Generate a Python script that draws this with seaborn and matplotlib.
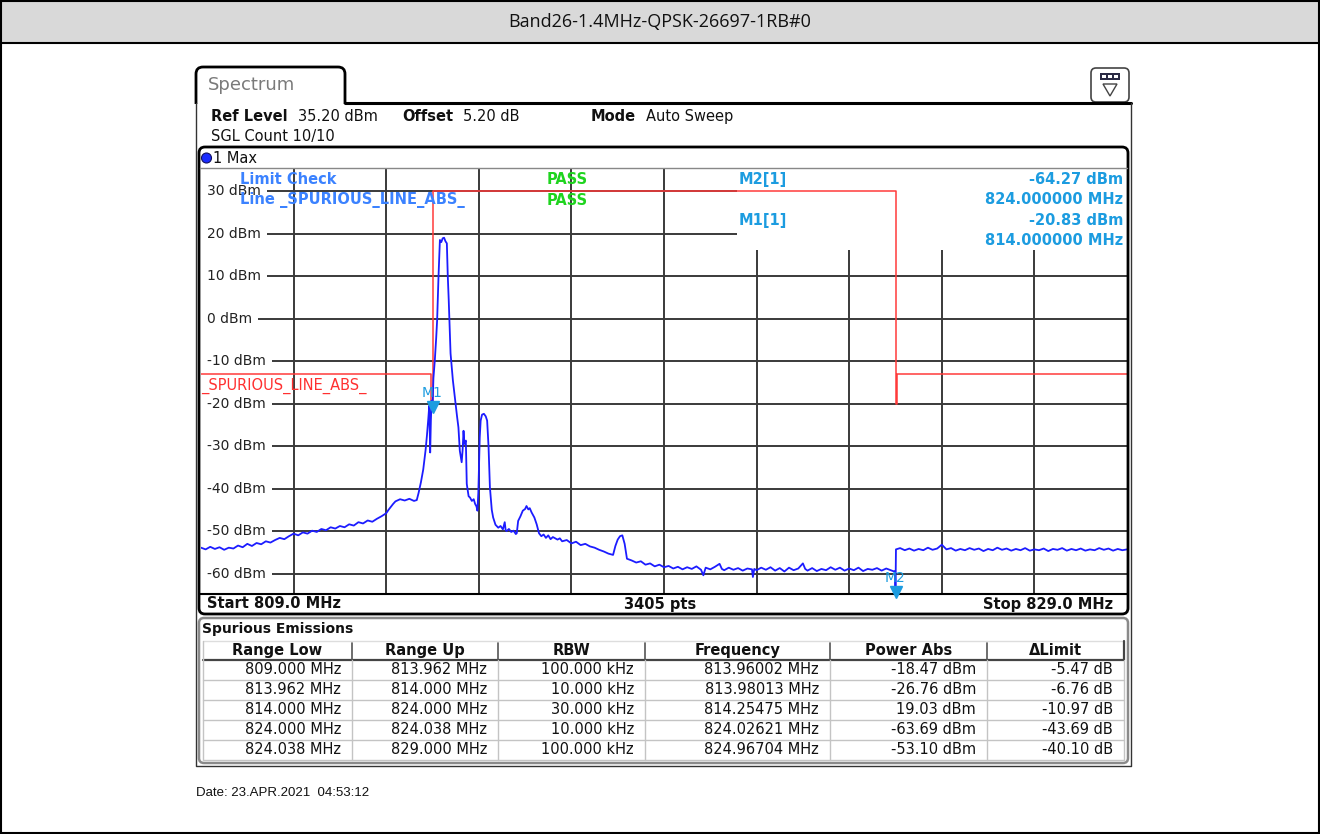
import numpy as np
import pandas as pd
import seaborn as sns
import matplotlib
matplotlib.use('Agg')
import matplotlib.pyplot as plt
import matplotlib.patches as patches
from matplotlib.path import Path

# ---- data ----
title = 'Band26-1.4MHz-QPSK-26697-1RB#0'
start_freq, stop_freq = 809.0, 829.0
ref_level = 35.20
sweep_pts = 3405

skirt_freq = [809.0, 809.1, 809.2, 809.3, 809.4, 809.5, 809.6, 809.7, 809.8, 809.9,
              810.0, 810.1, 810.2, 810.3, 810.4, 810.5, 810.6, 810.7, 810.8, 810.9,
              811.0, 811.1, 811.2, 811.3, 811.4, 811.5, 811.6, 811.7, 811.8, 811.9,
              812.0, 812.1, 812.2, 812.3, 812.4, 812.5, 812.6, 812.7, 812.8, 812.9,
              813.0, 813.05, 813.1, 813.15, 813.2, 813.3, 813.4, 813.5, 813.6, 813.66]
skirt_dbm = [-53.9, -54.3, -53.7, -54.2, -53.8, -54.4, -53.9, -54.1, -53.4, -53.8,
             -53.0, -53.5, -52.8, -53.1, -52.4, -52.7, -52.1, -51.6, -51.9, -51.2,
             -50.6, -51.0, -50.3, -50.6, -49.9, -50.2, -49.5, -49.8, -49.1, -49.4,
             -48.8, -49.1, -48.4, -48.7, -47.9, -48.2, -47.5, -47.8, -47.1, -46.5,
             -45.8, -45.0, -44.3, -43.6, -43.0, -42.5, -42.8, -42.4, -42.9, -42.7]

carrier_freq = [813.7, 813.75, 813.8, 813.85, 813.88, 813.91, 813.93, 813.95, 813.965,
                813.98, 814.0, 814.02, 814.05, 814.08, 814.1, 814.13, 814.16, 814.19,
                814.22, 814.25, 814.28, 814.31, 814.33, 814.35, 814.39, 814.44, 814.49,
                814.53, 814.56, 814.59, 814.63, 814.65, 814.67, 814.69, 814.72, 814.74,
                814.78, 814.81, 814.85, 814.89, 814.92, 814.95, 814.97, 814.99, 815.0,
                815.02, 815.04, 815.07, 815.11, 815.15, 815.18, 815.21, 815.24, 815.28,
                815.31, 815.36, 815.42, 815.47, 815.52, 815.56, 815.58, 815.6, 815.65,
                815.7, 815.75, 815.8, 815.82, 815.85, 815.9, 815.95, 816.0, 816.03,
                816.07, 816.1]
carrier_dbm = [-41.0, -38.5, -35.5, -31.0, -27.5, -23.5, -20.5, -31.5, -24.0,
               -19.3, -20.83, -14.0, -9.8, -4.5, -0.4, 10.0, 18.5, 18.0,
               18.9, 19.03, 18.2, 17.7, 10.0, 4.5, -8.2, -14.5, -19.3,
               -23.0, -25.6, -31.1, -33.8, -31.0, -26.4, -29.5, -28.7, -38.9,
               -41.8, -42.1, -42.9, -42.5, -43.6, -44.2, -45.2, -41.0, -36.5,
               -28.0, -24.0, -22.6, -22.4, -23.0, -24.0, -30.0, -39.7, -45.0,
               -46.8, -48.5, -49.2, -48.8, -49.6, -47.9, -49.8, -50.0, -49.5,
               -50.2, -49.9, -50.7, -50.5, -47.6, -46.5, -45.2, -44.8, -44.1,
               -44.9, -44.6]

floor_freq = [816.14, 816.2, 816.25, 816.3, 816.35, 816.4, 816.45, 816.5, 816.55, 816.6,
              816.7, 816.75, 816.8, 816.9, 817.0, 817.1, 817.2, 817.3, 817.4, 817.5,
              817.6, 817.7, 817.8, 817.9, 817.95, 818.0, 818.05, 818.1, 818.15, 818.2,
              818.3, 818.4, 818.5, 818.6, 818.7, 818.8, 818.9, 819.0, 819.1, 819.2,
              819.3, 819.4, 819.5, 819.6, 819.7, 819.8, 819.85, 819.9, 820.0, 820.1,
              820.2, 820.25, 820.3, 820.4, 820.5, 820.6, 820.7, 820.8, 820.9, 820.92,
              820.95, 821.0, 821.1, 821.2, 821.3, 821.4, 821.5, 821.6, 821.7, 821.8,
              821.9, 822.0, 822.05, 822.1, 822.2, 822.3, 822.4, 822.5, 822.6, 822.7,
              822.8, 822.9, 823.0, 823.1, 823.2, 823.3, 823.4, 823.5, 823.6, 823.7,
              823.8, 823.9, 823.97, 823.99]
floor_dbm = [-45.6, -46.8, -48.4, -50.5, -51.2, -50.8, -51.6, -51.0, -51.9, -51.4,
             -52.0, -51.7, -52.4, -52.1, -52.9, -52.5, -53.3, -53.0, -53.6, -53.9,
             -54.4, -54.8, -55.3, -55.6, -53.5, -52.0, -51.2, -51.0, -53.0, -56.5,
             -56.9, -57.4, -57.1, -57.9, -57.6, -58.3, -57.9, -58.5, -58.2, -58.8,
             -58.4, -59.0, -58.5, -58.9, -58.3, -59.1, -60.4, -58.6, -59.0, -58.4,
             -57.7, -58.9, -59.2, -58.6, -59.1, -58.7, -59.3, -58.8, -59.0, -60.8,
             -58.9, -59.2, -58.6, -59.1, -58.5, -59.3, -58.7, -59.5, -58.6, -59.2,
             -58.8, -57.6, -58.9, -59.3, -58.7, -59.4, -58.9, -59.2, -58.5, -59.1,
             -58.6, -59.3, -58.8, -59.2, -58.6, -59.4, -58.9, -59.1, -58.7, -59.3,
             -58.8, -59.2, -59.5, -59.4]

upper_freq = [824.0, 824.01, 824.1, 824.2, 824.3, 824.4, 824.5, 824.6, 824.7, 824.8,
              824.9, 825.0, 825.1, 825.2, 825.3, 825.4, 825.5, 825.6, 825.7, 825.8,
              825.9, 826.0, 826.1, 826.2, 826.3, 826.4, 826.5, 826.6, 826.7, 826.8,
              826.9, 827.0, 827.1, 827.2, 827.3, 827.4, 827.5, 827.6, 827.7, 827.8,
              827.9, 828.0, 828.1, 828.2, 828.3, 828.4, 828.5, 828.6, 828.7, 828.8,
              828.9, 829.0]
upper_dbm = [-64.27, -54.3, -54.0, -54.5, -54.1, -54.6, -54.2, -54.5, -53.9, -54.4,
             -54.1, -53.2, -54.3, -54.0, -54.6, -54.2, -54.5, -54.0, -54.4, -54.1,
             -54.7, -54.2, -54.5, -53.9, -54.4, -54.1, -54.6, -54.2, -54.5, -54.0,
             -54.6, -54.3, -54.5, -54.1, -54.7, -54.2, -54.4, -54.0, -54.6, -54.2,
             -54.5, -54.1, -54.6, -54.3, -54.5, -54.0, -54.4, -54.1, -54.6, -54.2,
             -54.5, -54.3]

limit_freq = [809.0, 813.962, 813.962, 814.0, 814.0, 824.0, 824.0, 824.038, 824.038, 829.0]
limit_dbm = [-13, -13, -20, -20, 30, 30, -20, -20, -13, -13]

level_ticks = [-60, -50, -40, -30, -20, -10, 0, 10, 20, 30]
freq_grid = [811, 813, 815, 817, 819, 821, 823, 825, 827]

marker_names = ['M1', 'M2']
marker_freq = [814.0, 824.0]
marker_dbm = [-20.83, -64.27]

col_names = ['Range Low', 'Range Up', 'RBW', 'Frequency', 'Power Abs', '\u0394Limit']
range_low = [809.000, 813.962, 814.000, 824.000, 824.038]
range_up = [813.962, 814.000, 824.000, 824.038, 829.000]
rbw_khz = [100.000, 10.000, 30.000, 10.000, 100.000]
peak_freq = [813.96002, 813.98013, 814.25475, 824.02621, 824.96704]
power_abs = [-18.47, -26.76, 19.03, -63.69, -53.10]
delta_limit = [-5.47, -6.76, -10.97, -43.69, -40.10]

trace = pd.DataFrame({
    'freq': skirt_freq + carrier_freq + floor_freq + upper_freq,
    'dbm': skirt_dbm + carrier_dbm + floor_dbm + upper_dbm,
})
limits = pd.DataFrame({'freq': limit_freq, 'dbm': limit_dbm})

# ---- figure ----
sns.set_style('white')
plt.rcParams['font.family'] = ['DejaVu Sans']

W, H = 1320, 834
fig = plt.figure(figsize=(W / 100, H / 100), dpi=100)

bg = fig.add_axes([0, 0, 1, 1], zorder=0)
bg.set_xlim(0, W)
bg.set_ylim(H, 0)
bg.axis('off')

ax = fig.add_axes([201 / W, 1 - 594 / H, (1127 - 201) / W, (594 - 169) / H], zorder=1)

fg = fig.add_axes([0, 0, 1, 1], zorder=2)
fg.set_xlim(0, W)
fg.set_ylim(H, 0)
fg.axis('off')
fg.patch.set_alpha(0)

# title bar and page frame
bg.add_patch(patches.Rectangle((0, 0), W, 43, fc='#d9d9d9', ec='none'))
fg.plot([0, W], [43, 43], color='black', lw=1.5)
fg.add_patch(patches.Rectangle((1, 1), W - 2.5, H - 2.5, fill=False, ec='black', lw=1.5))
fg.text(660, 22, title, ha='center', va='center', fontsize=13,
        family=['Open Sans', 'DejaVu Sans'], color='#111111')

# spectrum window
tab = Path([(196, 104), (196, 74), (196, 67), (203, 67), (338, 67), (345, 67),
            (345, 74), (345, 104)],
           [Path.MOVETO, Path.LINETO, Path.CURVE3, Path.CURVE3, Path.LINETO,
            Path.CURVE3, Path.CURVE3, Path.LINETO])
fg.add_patch(patches.PathPatch(tab, fill=False, ec='black', lw=2))
fg.plot([345, 1131], [103, 103], color='black', lw=2.2)
fg.plot([196, 196, 1131, 1131], [103, 766, 766, 103], color='#333333', lw=1)
fg.text(208, 85, 'Spectrum', ha='left', va='center', fontsize=13, color='#7a7a7a')

# little toolbar icon
fg.add_patch(patches.FancyBboxPatch((1091, 68), 38, 34, boxstyle='round,pad=0,rounding_size=5',
                                    fc='white', ec='#444444', lw=1.2))
fg.add_patch(patches.Rectangle((1100, 73), 20, 7, fc='#2a2a44', ec='none'))
for sx in (1102, 1108, 1114):
    fg.add_patch(patches.Rectangle((sx, 75), 4, 3, fc='white', ec='none'))
fg.add_patch(patches.Polygon([(1103, 84), (1117, 84), (1110, 96)], closed=True,
                             fill=False, ec='#444444', lw=1))

# header info
hdr = dict(va='center', ha='left', fontsize=10.5, color='#111111')
fg.text(211, 116, 'Ref Level', weight='bold', **hdr)
fg.text(298, 116, f'{ref_level:.2f} dBm', **hdr)
fg.text(402, 116, 'Offset', weight='bold', **hdr)
fg.text(463, 116, '5.20 dB', **hdr)
fg.text(591, 116, 'Mode', weight='bold', **hdr)
fg.text(646, 116, 'Auto Sweep', **hdr)
fg.text(211, 136, 'SGL Count 10/10', **hdr)

# plot panel frame
fg.add_patch(patches.FancyBboxPatch((199, 147), 929, 467, boxstyle='round,pad=0,rounding_size=6',
                                    fill=False, ec='black', lw=2))
fg.plot([200, 1127], [167.5, 167.5], color='#888888', lw=1)
fg.add_patch(patches.Circle((206.5, 158), 5, fc='#1a2cff', ec='#101060', lw=0.8))
fg.text(213, 158, '1 Max', **hdr)

# ---- spectrum plot ----
ax.set_xlim(start_freq, stop_freq)
ax.set_ylim(ref_level - 100, ref_level)
ax.set_xticks(freq_grid)
ax.set_yticks(level_ticks)
ax.tick_params(length=0, labelbottom=False, labelleft=False)
ax.grid(True, color='#3a3a3a', lw=1.4)
ax.set_axisbelow(True)
for side in ('top', 'left', 'right'):
    ax.spines[side].set_visible(False)
ax.spines['bottom'].set_color('black')
ax.spines['bottom'].set_linewidth(1.5)

# marker-info block hides the grid in the top right corner
ax.add_patch(patches.Rectangle((820.58, 16.1), stop_freq - 820.58, ref_level - 16.1,
                               fc='white', ec='none', zorder=1))

for v in level_ticks:
    ax.text(start_freq + 0.13, v, f'{v} dBm', ha='left', va='center', fontsize=10,
            color='#222222', zorder=1.5,
            bbox=dict(fc='white', ec='none', pad=4.2))

sns.lineplot(data=limits, x='freq', y='dbm', sort=False, estimator=None,
             color='#ff3a3a', lw=1.1, ax=ax, zorder=3)
sns.lineplot(data=trace, x='freq', y='dbm', sort=False, estimator=None,
             color='#1c1cff', lw=1.3, ax=ax, zorder=4)
ax.set_xlabel('')
ax.set_ylabel('')

ax.text(start_freq, -15.8, '_SPURIOUS_LINE_ABS_', ha='left', va='center',
        fontsize=10.5, color='#ff3030', zorder=3)

for name, mf, md in zip(marker_names, marker_freq, marker_dbm):
    ax.plot([mf], [md], marker='v', ms=8, color='#1c9ce0', zorder=6, clip_on=False)
    ax.annotate(name, (mf, md), xytext=(0, 10), textcoords='offset points',
                ha='center', va='center', fontsize=10, color='#1c9ce0', zorder=6)

# limit check / marker read-out
blue = '#3b82ff'
mk = '#1c9ce0'
green = '#1fd41f'
fg.text(240, 179, 'Limit Check', ha='left', va='center', fontsize=10.5, weight='bold', color=blue)
fg.text(240, 200, 'Line _SPURIOUS_LINE_ABS_', ha='left', va='center', fontsize=10.5,
        weight='bold', color=blue)
fg.text(547, 179, 'PASS', ha='left', va='center', fontsize=10.5, weight='bold', color=green)
fg.text(547, 200, 'PASS', ha='left', va='center', fontsize=10.5, weight='bold', color=green)
fg.text(739, 179, 'M2[1]', ha='left', va='center', fontsize=10.5, weight='bold', color=mk)
fg.text(739, 220, 'M1[1]', ha='left', va='center', fontsize=10.5, weight='bold', color=mk)
fg.text(1123, 179, f'{marker_dbm[1]:.2f} dBm', ha='right', va='center', fontsize=10.5,
        weight='bold', color=mk)
fg.text(1123, 199, f'{marker_freq[1]:.6f} MHz', ha='right', va='center', fontsize=10.5,
        weight='bold', color=mk)
fg.text(1123, 220, f'{marker_dbm[0]:.2f} dBm', ha='right', va='center', fontsize=10.5,
        weight='bold', color=mk)
fg.text(1123, 240, f'{marker_freq[0]:.6f} MHz', ha='right', va='center', fontsize=10.5,
        weight='bold', color=mk)

# footer of the plot panel
fg.text(207, 604, f'Start {start_freq:.1f} MHz', ha='left', va='center', fontsize=10.5,
        weight='bold', color='#111111')
fg.text(660, 604, f'{sweep_pts} pts', ha='center', va='center', fontsize=10.5,
        weight='bold', color='#111111')
fg.text(1113, 604, f'Stop {stop_freq:.1f} MHz', ha='right', va='center', fontsize=10.5,
        weight='bold', color='#111111')

# ---- spurious emissions table ----
fg.add_patch(patches.FancyBboxPatch((199, 618), 929, 145, boxstyle='round,pad=0,rounding_size=5',
                                    fill=False, ec='#8a8a8a', lw=1.8))
fg.text(202, 629, 'Spurious Emissions', ha='left', va='center', fontsize=10,
        weight='bold', color='#111111')

col_x = [203, 352, 498, 645, 830, 987, 1124]
head_top, head_bot = 641, 660
row_h = 20
n_rows = len(range_low)
tab_bot = head_bot + n_rows * row_h

fg.plot([203, 1124], [head_bot, head_bot], color='#444444', lw=1.6)
fg.plot([203, 1124], [641, 641], color='#dddddd', lw=1)
fg.plot([1124, 1124], [head_top, head_bot], color='#444444', lw=1.6)
for cx in col_x[1:-1]:
    fg.plot([cx, cx], [head_top + 2, head_bot], color='#555555', lw=1.2)
    fg.plot([cx, cx], [head_bot, tab_bot], color='#c4c4c4', lw=1)
fg.plot([col_x[0], col_x[0]], [head_top, tab_bot], color='#c4c4c4', lw=1)
fg.plot([col_x[-1], col_x[-1]], [head_bot, tab_bot], color='#c4c4c4', lw=1)
for r in range(1, n_rows + 1):
    fg.plot([203, 1124], [head_bot + r * row_h] * 2, color='#c4c4c4', lw=1)

for i, name in enumerate(col_names):
    fg.text((col_x[i] + col_x[i + 1]) / 2, 650.5, name, ha='center', va='center',
            fontsize=10.5, weight='bold', color='#111111')

rows = zip(range_low, range_up, rbw_khz, peak_freq, power_abs, delta_limit)
for r, (lo, up, rb, pf, pw, dl) in enumerate(rows):
    cells = [f'{lo:.3f} MHz', f'{up:.3f} MHz', f'{rb:.3f} kHz', f'{pf:.5f} MHz',
             f'{pw:.2f} dBm', f'{dl:.2f} dB']
    yc = head_bot + r * row_h + row_h / 2
    for i, s in enumerate(cells):
        fg.text(col_x[i + 1] - 11, yc, s, ha='right', va='center', fontsize=10.5,
                color='#111111')

fg.text(196, 793, 'Date: 23.APR.2021  04:53:12', ha='left', va='center', fontsize=9.5,
        family=['Liberation Sans', 'DejaVu Sans'], color='#111111')

fig.savefig('out.png', dpi=100)
